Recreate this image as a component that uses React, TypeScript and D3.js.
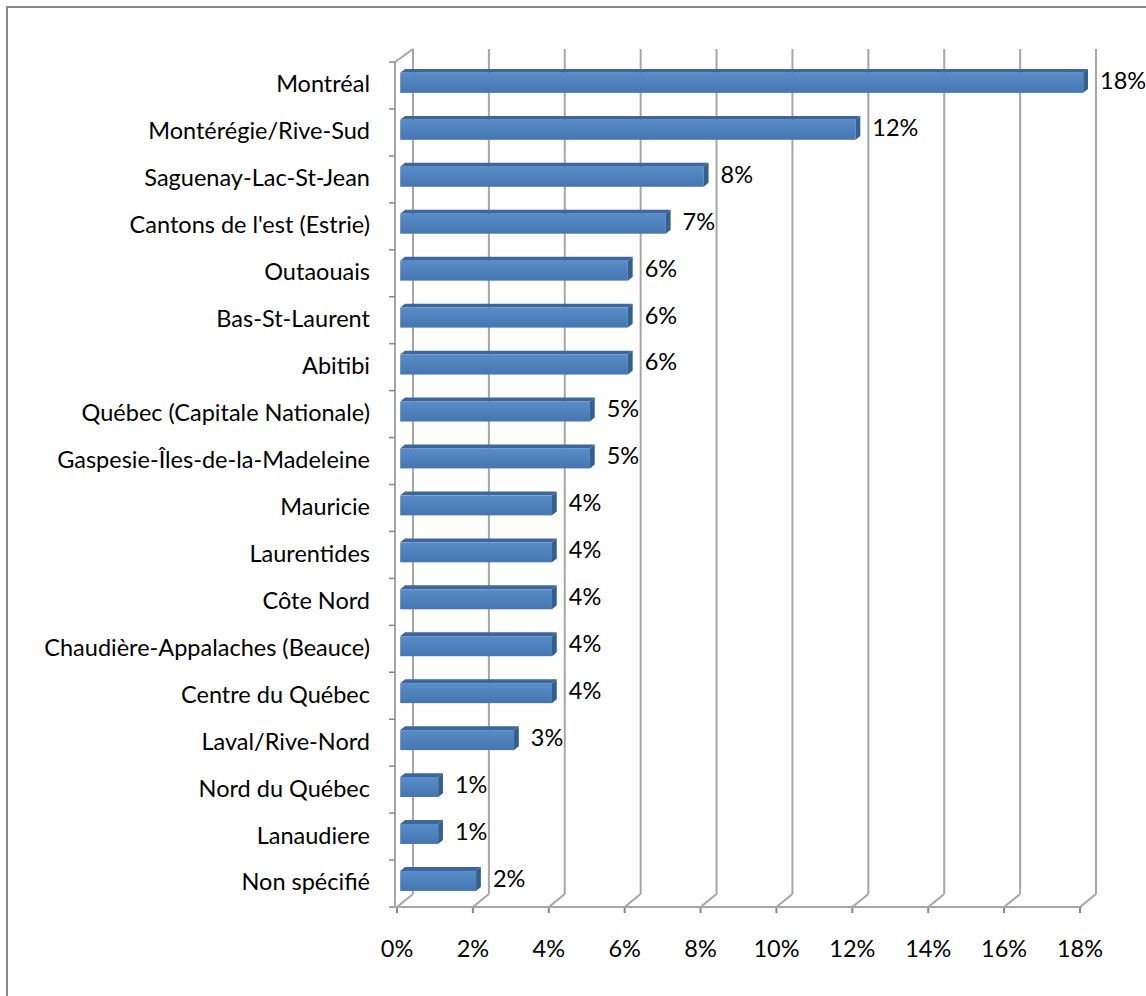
import React from "react";
import * as d3 from "d3";

const categories = [
  "Montréal",
  "Montérégie/Rive-Sud",
  "Saguenay-Lac-St-Jean",
  "Cantons de l'est (Estrie)",
  "Outaouais",
  "Bas-St-Laurent",
  "Abitibi",
  "Québec (Capitale Nationale)",
  "Gaspesie-Îles-de-la-Madeleine",
  "Mauricie",
  "Laurentides",
  "Côte Nord",
  "Chaudière-Appalaches (Beauce)",
  "Centre du Québec",
  "Laval/Rive-Nord",
  "Nord du Québec",
  "Lanaudiere",
  "Non spécifié",
];
const values = [18, 12, 8, 7, 6, 6, 6, 5, 5, 4, 4, 4, 4, 4, 3, 1, 1, 2];
const valueLabels = ["18%", "12%", "8%", "7%", "6%", "6%", "6%", "5%", "5%", "4%", "4%", "4%", "4%", "4%", "3%", "1%", "1%", "2%"];
const ticks = [0, 2, 4, 6, 8, 10, 12, 14, 16, 18];

const W = 1146;
const H = 996;
const FONT = "Lato, 'Liberation Sans', sans-serif";
const FS = 23.5;

export default function App() {
  const x = d3.scaleLinear().domain([0, 18]).range([397, 1080]);
  const y = d3.scaleBand<string>().domain(categories).range([62, 907]).paddingInner(0).paddingOuter(0);
  const DX = 16;
  const DY = -13;
  const yFront = 907;
  const yTop = 62;
  const grid = "#a6a6a6";
  const f0 = 0.2;
  const f1 = 0.5;
  const barH = 20;
  const bw = y.bandwidth();

  return (
    <svg width={W} height={H} style={{ position: "absolute", left: 0, top: 0, background: "#fff" }}>
      <defs>
        <linearGradient id="front" x1="0" y1="0" x2="0" y2="1">
          <stop offset="0" stopColor="#5a8cc8" />
          <stop offset="0.5" stopColor="#4f81bd" />
          <stop offset="1" stopColor="#4676b0" />
        </linearGradient>
      </defs>
      <rect x={7} y={7} width={W + 20} height={H + 20} fill="none" stroke="#888" strokeWidth={2} />
      {ticks.map((t) => (
        <g key={"g" + t}>
          <line x1={x(t) + DX} x2={x(t) + DX} y1={yTop + DY} y2={yFront + DY} stroke={grid} strokeWidth={2} />
          <line x1={x(t)} x2={x(t) + DX} y1={yFront} y2={yFront + DY} stroke={grid} strokeWidth={2} />
          <line x1={x(t)} x2={x(t)} y1={yFront} y2={yFront + 6} stroke="#888" strokeWidth={2} />
        </g>
      ))}
      <line x1={x(0) - 2} x2={x(0) - 2} y1={yTop} y2={yFront} stroke={grid} strokeWidth={2} />
      <line x1={x(0) - 2} x2={x(0) + DX} y1={yTop} y2={yTop + DY} stroke={grid} strokeWidth={2} />
      {d3.range(categories.length + 1).map((i) => (
        <line key={"t" + i} x1={x(0) - 8} x2={x(0) - 2} y1={yTop + i * bw} y2={yTop + i * bw} stroke="#888" strokeWidth={1.5} />
      ))}
      <line x1={x(0) - 8} x2={x(18) + 2} y1={yFront} y2={yFront} stroke={grid} strokeWidth={2} />
      {categories.map((c, i) => {
        const cy = (y(c) as number) + bw / 2;
        const ox = DX * f0;
        const oy = DY * f0;
        const bx = DX * (f1 - f0);
        const by = DY * (f1 - f0);
        const x0 = x(0) + ox;
        const x1 = x(values[i]) + ox;
        const yt = cy - barH / 2 + oy;
        const yb = cy + barH / 2 + oy;
        return (
          <g key={c}>
            <polygon points={`${x0},${yt} ${x0 + bx},${yt + by} ${x1 + bx},${yt + by} ${x1},${yt}`} fill="#3b679e" />
            <rect x={x0} y={yt} width={x1 - x0} height={yb - yt} fill="url(#front)" />
            <polygon points={`${x1},${yt} ${x1 + bx},${yt + by} ${x1 + bx},${yb + by} ${x1},${yb}`} fill="#34608f" />
            <text x={x1 + bx + 12} y={cy + oy} fontFamily={FONT} fontSize={FS} dominantBaseline="middle" fill="#000">
              {valueLabels[i]}
            </text>
          </g>
        );
      })}
      {categories.map((c) => (
        <text key={"l" + c} x={370} y={(y(c) as number) + bw / 2 + 1} textAnchor="end" dominantBaseline="middle" fontFamily={FONT} fontSize={FS} fill="#000">
          {c}
        </text>
      ))}
      {ticks.map((t) => (
        <text key={"x" + t} x={x(t)} y={951} textAnchor="middle" dominantBaseline="middle" fontFamily={FONT} fontSize={FS} fill="#000">
          {t + "%"}
        </text>
      ))}
    </svg>
  );
}
